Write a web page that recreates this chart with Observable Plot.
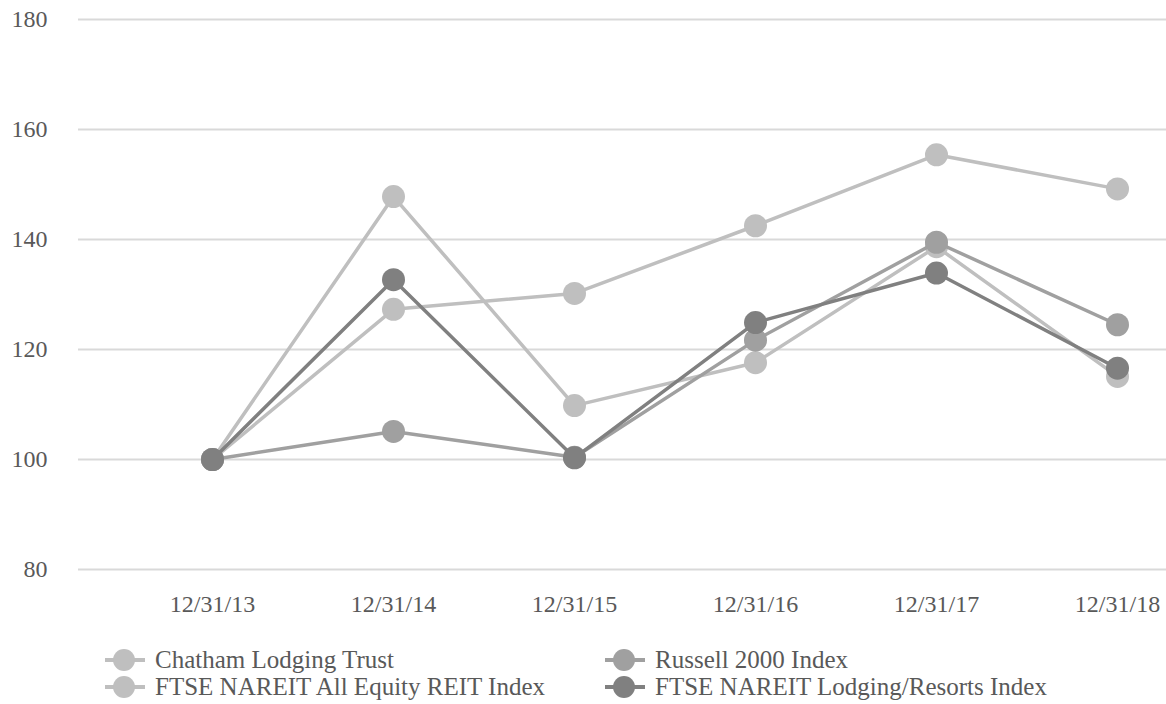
<!DOCTYPE html>
<html>
<head>
<meta charset="utf-8">
<script src="https://cdn.jsdelivr.net/npm/d3@7"></script>
<script src="https://cdn.jsdelivr.net/npm/@observablehq/plot@0.6"></script>
<style>
  .leg { position: absolute; display: flex; align-items: center; color: #595959; white-space: nowrap; line-height: 26px; font-size: 25px; }
  .sym { position: relative; width: 40px; height: 22px; margin-right: 10px; }
  .sym .ln { position: absolute; left: 0; right: 0; top: 9px; height: 4px; }
  .sym .dt { position: absolute; left: 8px; top: 0; width: 22px; height: 22px; border-radius: 50%; }
</style>
</head>
<body style="margin:0;font-family:'Liberation Serif';background:#fff">
<div id="chart" style="position:absolute;left:0;top:0"></div>
<div id="legend"></div>
<script>
const dates = ["12/31/13", "12/31/14", "12/31/15", "12/31/16", "12/31/17", "12/31/18"];
const seriesNames = ["Chatham Lodging Trust", "FTSE NAREIT All Equity REIT Index", "Russell 2000 Index", "FTSE NAREIT Lodging/Resorts Index"];
const chatham = [100, 147.8, 109.8, 117.6, 138.7, 115.1];
const reit = [100, 127.3, 130.2, 142.5, 155.4, 149.2];
const russell = [100, 105.1, 100.4, 121.7, 139.5, 124.5];
const lodging = [100, 132.7, 100.3, 124.9, 133.9, 116.6];
const colors = ["#bfbfbf", "#bfbfbf", "#a0a0a0", "#808080"];
const yTicks = [80, 100, 120, 140, 160, 180];

const allValues = [chatham, reit, russell, lodging];
const tables = allValues.map((vals, i) => dates.map((d, j) => ({date: d, value: vals[j], series: seriesNames[i]})));

const marks = [
  Plot.ruleY(yTicks, {stroke: "#d9d9d9", strokeWidth: 2}),
  Plot.axisY({ticks: yTicks, tickSize: 0, tickPadding: 31, fill: "#595959", fontSize: 24, fontFamily: "Liberation Serif"}),
  Plot.axisX({tickSize: 0, tickPadding: 25, fill: "#595959", fontSize: 24, fontFamily: "Liberation Serif"})
];
tables.forEach((t, i) => {
  marks.push(Plot.lineY(t, {x: "date", y: "value", stroke: colors[i], strokeWidth: 3.5}));
  marks.push(Plot.dot(t, {x: "date", y: "value", r: 11.5, fill: colors[i], stroke: "none"}));
});

const plot = Plot.plot({
  width: 1166,
  height: 630,
  marginLeft: 78,
  marginRight: 0,
  marginTop: 19,
  marginBottom: 61,
  style: {background: "#fff", fontFamily: "Liberation Serif"},
  x: {type: "point", domain: dates, range: [211, 1118], padding: 0, label: null},
  y: {domain: [80, 180], label: null},
  marks
});
document.getElementById("chart").appendChild(plot);

const legendPos = [[105, 660], [105, 687], [605, 660], [605, 687]];
const legend = document.getElementById("legend");
seriesNames.forEach((name, i) => {
  const item = document.createElement("div");
  item.className = "leg";
  item.style.left = legendPos[i][0] + "px";
  item.style.top = (legendPos[i][1] - 13) + "px";
  item.innerHTML = `<div class="sym"><div class="ln" style="background:${colors[i]}"></div><div class="dt" style="background:${colors[i]}"></div></div><span style="font-family:'Liberation Serif'">${name}</span>`;
  legend.appendChild(item);
});
</script>
</body>
</html>
